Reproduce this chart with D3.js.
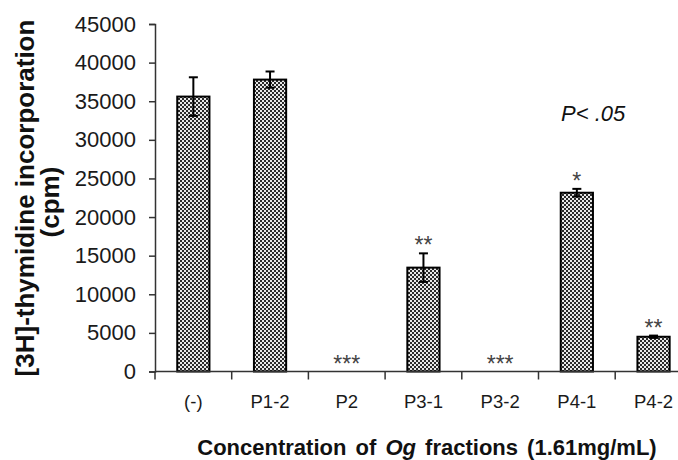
<!DOCTYPE html>
<head>
  <meta charset="utf-8">
  <script src="https://d3js.org/d3.v7.min.js"></script>
  <style>
    body { margin:0; background:#fff; }
    svg { font-family: "Liberation Sans", Arial, sans-serif; }
    .axis path, .axis line { fill:none; stroke:#333; stroke-width:1.5px; }
    .axis text { font-size:22px; fill:#1a1a1a; }
  </style>
</head>
<body>
<script>
  // data
  var categories = ["(-)", "P1-2", "P2", "P3-1", "P3-2", "P4-1", "P4-2"];
  var means      = [35600, 37800, 0, 13450, 0, 23150, 4500];
  var errors     = [2500, 1050, 0, 1850, 0, 500, 150];
  var stars      = ["", "", "***", "**", "***", "*", "**"];
  var yTicks     = [0, 5000, 10000, 15000, 20000, 25000, 30000, 35000, 40000, 45000];

  var w = 678, h = 460;
  var x0 = 155, y0 = 371.5, yTop = 24;
  var band = 76.7;

  var svg = d3.select("body").append("svg")
      .attr("width", w)
      .attr("height", h);

  // checkered fill like the original print
  var pat = svg.append("defs").append("pattern")
      .attr("id", "check")
      .attr("patternUnits", "userSpaceOnUse")
      .attr("width", 4).attr("height", 4);
  pat.append("rect").attr("width", 4).attr("height", 4).attr("fill", "#e8e8e8");
  pat.append("rect").attr("width", 2).attr("height", 2).attr("fill", "#2a2a2a");
  pat.append("rect").attr("x", 2).attr("y", 2).attr("width", 2).attr("height", 2).attr("fill", "#2a2a2a");

  var xScale = d3.scaleBand()
      .domain(categories)
      .range([x0, x0 + band * categories.length])
      .paddingInner(0.58)
      .paddingOuter(0.29);

  var yScale = d3.scaleLinear()
      .domain([0, 45000])
      .range([y0, yTop]);

  // bars
  svg.selectAll("rect.bar")
      .data(categories)
      .enter()
      .append("rect")
      .attr("class", "bar")
      .attr("x", function(d) { return xScale(d); })
      .attr("width", xScale.bandwidth())
      .attr("y", function(d, i) { return yScale(means[i]); })
      .attr("height", function(d, i) { return y0 - yScale(means[i]); })
      .attr("fill", "url(#check)")
      .attr("stroke", function(d, i) { return means[i] > 0 ? "#000" : "none"; })
      .attr("stroke-width", 2);

  // error bars
  var eb = svg.selectAll("g.err")
      .data(categories.filter(function(d, i) { return errors[i] > 0; }))
      .enter()
      .append("g")
      .attr("class", "err")
      .attr("stroke", "#000")
      .attr("stroke-width", 2);
  function cx(d) { return xScale(d) + xScale.bandwidth() / 2; }
  function idx(d) { return categories.indexOf(d); }
  eb.append("line")
      .attr("x1", cx).attr("x2", cx)
      .attr("y1", function(d) { return yScale(means[idx(d)] + errors[idx(d)]); })
      .attr("y2", function(d) { return yScale(means[idx(d)] - errors[idx(d)]); });
  [1, -1].forEach(function(s) {
    eb.append("line")
        .attr("x1", function(d) { return cx(d) - 4.5; })
        .attr("x2", function(d) { return cx(d) + 4.5; })
        .attr("y1", function(d) { return yScale(means[idx(d)] + s * errors[idx(d)]); })
        .attr("y2", function(d) { return yScale(means[idx(d)] + s * errors[idx(d)]); });
  });

  // significance stars
  svg.selectAll("text.star")
      .data(categories)
      .enter()
      .append("text")
      .attr("class", "star")
      .attr("x", cx)
      .attr("y", function(d, i) { return yScale(means[i] + errors[i]); })
      .attr("text-anchor", "middle")
      .attr("font-size", 23)
      .attr("fill", "#444")
      .text(function(d, i) { return stars[i]; });

  // y axis
  var yAxis = d3.axisLeft(yScale)
      .tickValues(yTicks)
      .tickFormat(d3.format("d"))
      .tickSizeOuter(0)
      .tickSize(6)
      .tickPadding(13);
  svg.append("g")
      .attr("class", "axis")
      .attr("transform", "translate(" + x0 + ",0)")
      .call(yAxis);

  // x axis: line to the right edge, ticks between categories
  var gx = svg.append("g").attr("class", "axis");
  gx.append("line")
      .attr("x1", x0).attr("x2", w)
      .attr("y1", y0).attr("y2", y0);
  gx.selectAll("line.tk")
      .data(categories)
      .enter()
      .append("line")
      .attr("class", "tk")
      .attr("x1", function(d) { return xScale(d) - xScale.step() * 0.29; })
      .attr("x2", function(d) { return xScale(d) - xScale.step() * 0.29; })
      .attr("y1", y0).attr("y2", y0 + 8);
  gx.selectAll("text")
      .data(categories)
      .enter()
      .append("text")
      .attr("x", cx)
      .attr("y", 408)
      .attr("text-anchor", "middle")
      .style("font-size", "18.5px")
      .text(function(d) { return d; });

  // x title
  var xt = svg.append("text")
      .attr("x", 427)
      .attr("y", 455)
      .attr("text-anchor", "middle")
      .attr("font-size", 22)
      .attr("font-weight", "bold")
      .attr("word-spacing", 3)
      .attr("fill", "#111");
  xt.append("tspan").text("Concentration of ");
  xt.append("tspan").attr("font-style", "italic").text("Og");
  xt.append("tspan").text(" fractions (1.61mg/mL)");

  // y title, two lines
  var yt = svg.append("text")
      .attr("transform", "translate(34,198) rotate(-90)")
      .attr("text-anchor", "middle")
      .attr("font-size", 26)
      .attr("font-weight", "bold")
      .attr("fill", "#111");
  yt.append("tspan").attr("x", 0).attr("y", 0).text("[3H]-thymidine incorporation");
  yt.append("tspan").attr("x", -4).attr("y", 25).text("(cpm)");

  // p value note
  svg.append("text")
      .attr("x", 561)
      .attr("y", 121)
      .attr("font-size", 22)
      .attr("font-style", "italic")
      .attr("fill", "#111")
      .text("P< .05");
</script>
</body>
